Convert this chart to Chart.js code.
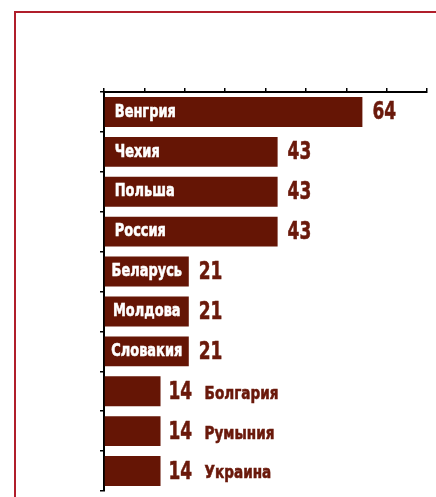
<!DOCTYPE html>
<html>
<head>
<meta charset="utf-8">
<script src="https://cdn.jsdelivr.net/npm/chart.js@4.4.1/dist/chart.umd.min.js"></script>
<style>
  html, body { margin: 0; padding: 0; background: #fff; }
  .frame {
    position: absolute; left: 14px; top: 11px; width: 440px; height: 500px;
    border-left: 2px solid #b01e2b; border-top: 2px solid #b01e2b;
  }
  .wrap { position: absolute; left: 0; top: 0; width: 436px; height: 497px; }
</style>
</head>
<body>
<div class="frame"></div>
<div class="wrap"><canvas id="chart" width="436" height="497"></canvas></div>
<script>
// countries, top to bottom
const countries = ['Венгрия', 'Чехия', 'Польша', 'Россия', 'Беларусь', 'Молдова', 'Словакия', 'Болгария', 'Румыния', 'Украина'];
const values = [64, 43, 43, 43, 21, 21, 21, 14, 14, 14];
const axisMax = 80;
const axisStep = 10;

const barColor = '#651505';
const textDark = '#6a190b';
const heavy = '"DejaVu Sans", sans-serif';

// squeezed bold text, a stand-in for the condensed poster font of the original
function narrowText(ctx, text, x, y, size, squeeze, color) {
  ctx.save();
  ctx.font = 'bold ' + size + 'px ' + heavy;
  const w = ctx.measureText(text).width * squeeze;
  ctx.translate(x, y);
  ctx.scale(squeeze, 1);
  ctx.fillStyle = color;
  ctx.strokeStyle = color;
  ctx.lineWidth = 0.6;
  ctx.fillText(text, 0, 0);
  ctx.strokeText(text, 0, 0);
  ctx.restore();
  return w;
}

function measureNarrow(ctx, text, size, squeeze) {
  ctx.save();
  ctx.font = 'bold ' + size + 'px ' + heavy;
  const w = ctx.measureText(text).width * squeeze;
  ctx.restore();
  return w;
}

const barLabels = {
  id: 'barLabels',
  afterDatasetsDraw(chart) {
    const ctx = chart.ctx;
    const meta = chart.getDatasetMeta(0);
    ctx.save();
    ctx.textBaseline = 'middle';
    ctx.textAlign = 'left';
    meta.data.forEach((bar, i) => {
      const v = values[i];
      if (v >= 20) {
        const w = measureNarrow(ctx, countries[i], 18, 0.72);
        const room = bar.x - bar.base;
        // short bars get their name centred, long ones start near the axis
        const x = room - w < 24 ? bar.base + (room - w) / 2 : bar.base + 10;
        narrowText(ctx, countries[i], x, bar.y, 18, 0.72, '#ffffff');
        narrowText(ctx, String(v), bar.x + 10, bar.y + 1, 25, 0.68, textDark);
      } else {
        narrowText(ctx, String(v), bar.x + 8, bar.y + 1, 25, 0.68, textDark);
        narrowText(ctx, countries[i], bar.x + 44, bar.y + 3, 17, 0.8, textDark);
      }
    });
    ctx.restore();
  }
};

new Chart(document.getElementById('chart'), {
  type: 'bar',
  data: {
    labels: countries,
    datasets: [{
      data: values,
      backgroundColor: barColor,
      borderWidth: 0,
      barPercentage: 0.75,
      categoryPercentage: 1.0
    }]
  },
  options: {
    indexAxis: 'y',
    responsive: false,
    animation: false,
    layout: { padding: { left: 100, top: 88, right: 9, bottom: 6 } },
    plugins: {
      legend: { display: false },
      tooltip: { enabled: false }
    },
    scales: {
      x: {
        position: 'top',
        min: 0,
        max: axisMax,
        ticks: { display: false, stepSize: axisStep },
        grid: { drawOnChartArea: false, drawTicks: true, tickLength: 4, color: '#000', lineWidth: 1.5 },
        border: { display: true, color: '#000', width: 2 },
        afterFit: (scale) => { scale.height = 4; }
      },
      y: {
        ticks: { display: false },
        grid: { drawOnChartArea: false, drawTicks: true, tickLength: 4, color: '#000', lineWidth: 1.5, offset: true },
        border: { display: true, color: '#000', width: 2 },
        afterFit: (scale) => { scale.width = 4; }
      }
    }
  },
  plugins: [barLabels]
});
</script>
</body>
</html>
